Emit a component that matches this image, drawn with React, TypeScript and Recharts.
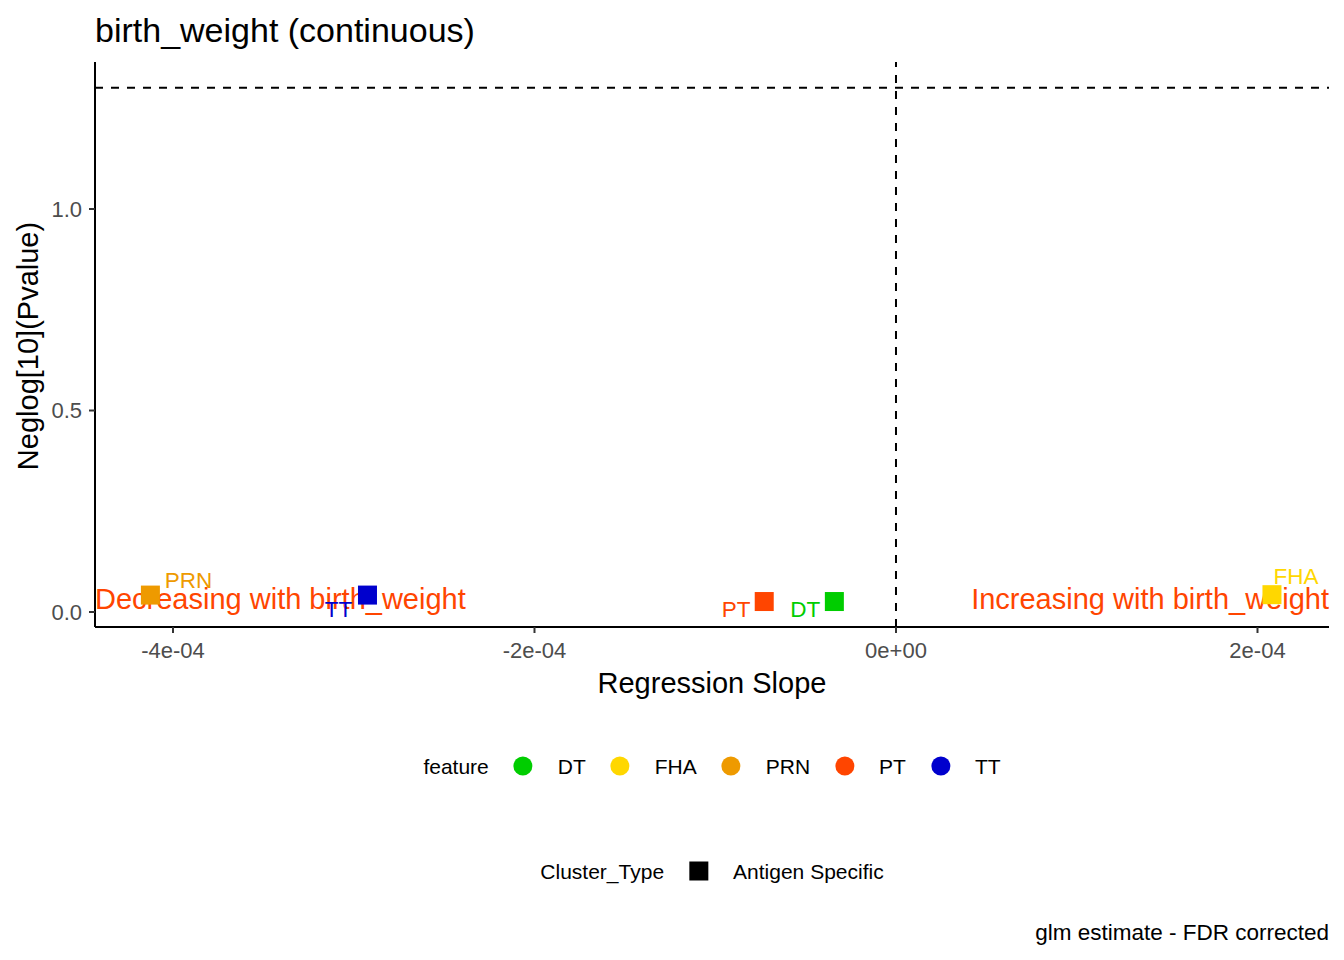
import React from "react";
import { ScatterChart, Scatter, XAxis, YAxis, ReferenceLine } from "recharts";

// values
const features = ["DT", "FHA", "PRN", "PT", "TT"];
const slopes = [-3.41e-5, 2.08e-4, -4.125e-4, -7.29e-5, -2.924e-4];
const negLogP = [0.026, 0.043, 0.042, 0.026, 0.042];

const xTicks = [-4e-4, -2e-4, 0, 2e-4];
const xTickLabels = ["-4e-04", "-2e-04", "0e+00", "2e-04"];
const yTicks = [0, 0.5, 1];
const yTickLabels = ["0.0", "0.5", "1.0"];

const annotations = ["Decreasing with birth_weight", "Increasing with birth_weight"];
const annotationY = [0.032, 0.032];

const X_MIN = -4.4315e-4;
const X_MAX = 2.3956e-4;
const Y_MIN = -0.0372;
const Y_MAX = 1.3648;
const P_CUTOFF = 1.30103; // -log10(0.05)

const COLORS: Record<string, string> = {
  DT: "#00CD00",
  FHA: "#FFD700",
  PRN: "#EE9A00",
  PT: "#FF4500",
  TT: "#0000CD",
};

// where ggrepel pushed each label, relative to its point (px)
const LABEL_OFFSET: Record<string, [number, number]> = {
  DT: [-29, 8],
  FHA: [24, -18],
  PRN: [38, -15],
  PT: [-28, 8],
  TT: [-29, 14],
};

const FONT = "'Liberation Sans', Arial, sans-serif";

const points = features.map((f, i) => ({ x: slopes[i], y: negLogP[i], feature: f }));
const annotationData = annotations.map((t, i) => ({
  x: i === 0 ? X_MIN : X_MAX,
  y: annotationY[i],
  text: t,
  anchor: i === 0 ? "start" : "end",
}));

const SquareWithLabel = (props: any) => {
  const { cx, cy, payload } = props;
  const c = COLORS[payload.feature];
  const [dx, dy] = LABEL_OFFSET[payload.feature];
  return (
    <g>
      <rect x={cx - 9.5} y={cy - 9.5} width={19} height={19} fill={c} />
      <text
        x={cx + dx}
        y={cy + dy}
        textAnchor="middle"
        dominantBaseline="central"
        fontSize={22.5}
        fontFamily={FONT}
        fill={c}
      >
        {payload.feature}
      </text>
    </g>
  );
};

const AnnotationText = (props: any) => {
  const { cx, cy, payload } = props;
  return (
    <text
      x={cx}
      y={cy}
      textAnchor={payload.anchor}
      dominantBaseline="central"
      fontSize={29}
      fontFamily={FONT}
      fill="#FF4500"
    >
      {payload.text}
    </text>
  );
};

const fmtX = (v: number) => {
  const i = xTicks.findIndex((t) => Math.abs(t - v) < 1e-9);
  return i >= 0 ? xTickLabels[i] : String(v);
};
const fmtY = (v: number) => {
  const i = yTicks.findIndex((t) => Math.abs(t - v) < 1e-9);
  return i >= 0 ? yTickLabels[i] : String(v);
};

const txt = (extra: React.CSSProperties): React.CSSProperties => ({
  position: "absolute",
  fontFamily: FONT,
  lineHeight: 1,
  whiteSpace: "nowrap",
  color: "#000",
  ...extra,
});

export default function App() {
  return (
    <div style={{ position: "absolute", left: 0, top: 0, width: 1344, height: 960, background: "#fff" }}>
      <ScatterChart
        width={1344}
        height={960}
        margin={{ top: 62, right: 15, bottom: 273, left: 0 }}
      >
        <XAxis
          type="number"
          dataKey="x"
          domain={[X_MIN, X_MAX]}
          allowDataOverflow
          ticks={xTicks}
          tickFormatter={fmtX}
          height={60}
          tickSize={6}
          tickMargin={9}
          axisLine={{ stroke: "#000", strokeWidth: 2 }}
          tickLine={{ stroke: "#333", strokeWidth: 2 }}
          tick={{ fontSize: 22, fill: "#4D4D4D", fontFamily: FONT }}
        />
        <YAxis
          type="number"
          dataKey="y"
          domain={[Y_MIN, Y_MAX]}
          allowDataOverflow
          ticks={yTicks}
          tickFormatter={fmtY}
          width={95}
          tickSize={6}
          tickMargin={7}
          axisLine={{ stroke: "#000", strokeWidth: 2 }}
          tickLine={{ stroke: "#333", strokeWidth: 2 }}
          tick={{ fontSize: 22, fill: "#4D4D4D", fontFamily: FONT }}
        />
        <ReferenceLine x={0} stroke="#000" strokeWidth={2} strokeDasharray="8 8" />
        <ReferenceLine y={P_CUTOFF} stroke="#000" strokeWidth={2} strokeDasharray="8 8" />
        <Scatter data={annotationData} shape={AnnotationText} isAnimationActive={false} />
        <Scatter data={points} shape={SquareWithLabel} isAnimationActive={false} />
      </ScatterChart>

      <div style={txt({ left: 95, top: 13, fontSize: 34 })}>birth_weight (continuous)</div>

      <div style={txt({ left: 712, top: 683, fontSize: 29, transform: "translate(-50%, -50%)" })}>
        Regression Slope
      </div>
      <div
        style={txt({ left: 28, top: 346, fontSize: 29, transform: "translate(-50%, -50%) rotate(-90deg)" })}
      >
        Neglog[10](Pvalue)
      </div>

      <div
        style={txt({
          left: 712,
          top: 766,
          fontSize: 21,
          transform: "translate(-50%, -50%)",
          display: "flex",
          alignItems: "center",
        })}
      >
        <span>feature</span>
        {features.map((f) => (
          <span key={f} style={{ display: "flex", alignItems: "center" }}>
            <span
              style={{
                display: "inline-block",
                width: 19,
                height: 19,
                borderRadius: "50%",
                background: COLORS[f],
                marginLeft: 25,
                marginRight: 25,
              }}
            />
            <span>{f}</span>
          </span>
        ))}
      </div>

      <div
        style={txt({
          left: 712,
          top: 871,
          fontSize: 21,
          transform: "translate(-50%, -50%)",
          display: "flex",
          alignItems: "center",
        })}
      >
        <span>Cluster_Type</span>
        <span
          style={{ display: "inline-block", width: 19, height: 19, background: "#000", marginLeft: 25, marginRight: 25 }}
        />
        <span>Antigen Specific</span>
      </div>

      <div style={txt({ right: 15, top: 933, fontSize: 22.5, transform: "translateY(-50%)" })}>
        glm estimate - FDR corrected
      </div>
    </div>
  );
}
